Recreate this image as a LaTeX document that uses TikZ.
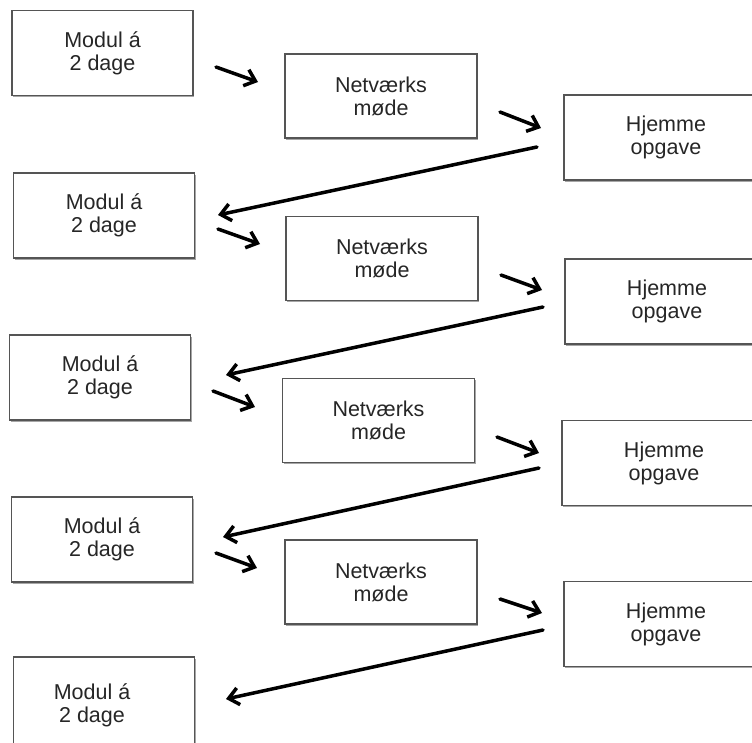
\documentclass[tikz,border=0pt]{standalone}
\usepackage{fontspec}
\setmainfont{Liberation Sans}
\usetikzlibrary{arrows.meta,shadows}
\definecolor{boxline}{HTML}{555555}
\definecolor{txt}{HTML}{262626}
\tikzset{
  box/.style={draw=boxline, line width=1.5pt, fill=white, rectangle, align=center,
    font=\fontsize{21.5}{23}\selectfont, text=txt, inner sep=0pt,
    drop shadow={shadow xshift=1.2pt, shadow yshift=-1.6pt, opacity=0.35, fill=black}},
  modbox/.style={box, minimum width=181pt, minimum height=85pt},
  netbox/.style={box, minimum width=192pt, minimum height=84pt},
  hjbox/.style={box, minimum width=204pt, minimum height=85pt},
  flow/.style={line width=3.5pt, -{Straight Barb[length=10pt,width=17pt,line width=3.5pt]}, line cap=round}
}
\begin{document}
\begin{tikzpicture}[x=1pt,y=-1pt]
\useasboundingbox (0,0) rectangle (752,742);
\clip (0,0) rectangle (752,742);
% Modul boxes
\node[modbox] (m1) at (102.5,53) {Modul á\\2 dage};
\node[modbox] (m2) at (104,215.5) {Modul á\\2 dage};
\node[modbox] (m3) at (100,377.5) {Modul á\\2 dage};
\node[modbox] (m4) at (102,539.5) {Modul á\\2 dage};
\node[modbox, minimum height=100pt] (m5) at (104,707) {};
\node[font=\fontsize{21.5}{23}\selectfont, text=txt, align=center, inner sep=0pt] (m5t) at (92,705) {Modul á\\2 dage};
% Netvaerks boxes
\node[netbox] (n1) at (381,96) {Netværks\\møde};
\node[netbox] (n2) at (382,258.5) {Netværks\\møde};
\node[netbox] (n3) at (378.5,420.5) {Netværks\\møde};
\node[netbox] (n4) at (381,582) {Netværks\\møde};
% Hjemme boxes
\node[hjbox] (h1) at (666,137.5) {Hjemme\\opgave};
\node[hjbox] (h2) at (667,301.5) {Hjemme\\opgave};
\node[hjbox] (h3) at (664,463) {Hjemme\\opgave};
\node[hjbox] (h4) at (666,624) {Hjemme\\opgave};
% arrow end points
\coordinate (s1a) at (216,67);  \coordinate (s1b) at (258,82);
\coordinate (s2a) at (500,112); \coordinate (s2b) at (541,128);
\coordinate (s3a) at (218,229); \coordinate (s3b) at (260,244);
\coordinate (s4a) at (501,275); \coordinate (s4b) at (542,290);
\coordinate (s5a) at (213,391); \coordinate (s5b) at (255,407);
\coordinate (s6a) at (497,437); \coordinate (s6b) at (539,453);
\coordinate (s7a) at (216,553); \coordinate (s7b) at (257,568);
\coordinate (s8a) at (500,599); \coordinate (s8b) at (542,613);
\coordinate (l1a) at (537,147); \coordinate (l1b) at (218,215);
\coordinate (l2a) at (543,307); \coordinate (l2b) at (226,375);
\coordinate (l3a) at (539,468); \coordinate (l3b) at (223,537);
\coordinate (l4a) at (543,630); \coordinate (l4b) at (226,699);
\foreach \p in {s1,s2,s3,s4,s5,s6,s7,s8,l1,l2,l3,l4}
  \draw[flow] (\p a) -- (\p b);
\end{tikzpicture}
\end{document}
